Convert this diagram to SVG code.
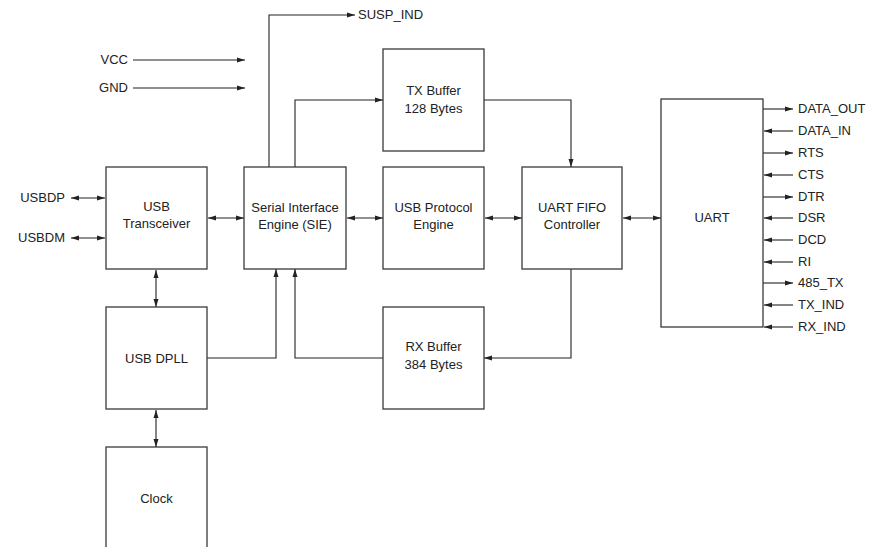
<svg xmlns="http://www.w3.org/2000/svg" width="879" height="547" viewBox="0 0 879 547">
<style>
.box{fill:#fff;stroke:#3a3a3a;stroke-width:1.3}
.ln{fill:none;stroke:#222;stroke-width:1.1}
.t{font-family:"Liberation Sans",Arial,sans-serif;font-size:13px;fill:#222}
.c{text-anchor:middle}
.r{text-anchor:end}
</style>
<defs>
<marker id="ah" markerUnits="userSpaceOnUse" markerWidth="10" markerHeight="8" refX="8" refY="3" orient="auto-start-reverse">
<path d="M0,0.5 L8,3 L0,5.5 Z" fill="#222"/>
</marker>
</defs>
<rect width="879" height="547" fill="#fff"/>
<g id="connectors">
<path class="ln" d="M133,60 H245" marker-end="url(#ah)"/>
<path class="ln" d="M133,88 H245" marker-end="url(#ah)"/>
<path class="ln" d="M269,167 V15 H355" marker-end="url(#ah)"/>
<path class="ln" d="M295,167 V100 H383" marker-end="url(#ah)"/>
<path class="ln" d="M484,100 H571 V167" marker-end="url(#ah)"/>
<path class="ln" d="M571,269 V358 H484" marker-end="url(#ah)"/>
<path class="ln" d="M383,358 H295 V269" marker-end="url(#ah)"/>
<path class="ln" d="M207,358 H276 V269" marker-end="url(#ah)"/>
<path class="ln" d="M71,198 H105" marker-start="url(#ah)" marker-end="url(#ah)"/>
<path class="ln" d="M71,238 H105" marker-start="url(#ah)" marker-end="url(#ah)"/>
<path class="ln" d="M208,218 H244" marker-start="url(#ah)" marker-end="url(#ah)"/>
<path class="ln" d="M347,218 H383" marker-start="url(#ah)" marker-end="url(#ah)"/>
<path class="ln" d="M485,218 H522" marker-start="url(#ah)" marker-end="url(#ah)"/>
<path class="ln" d="M623,218 H661" marker-start="url(#ah)" marker-end="url(#ah)"/>
<path class="ln" d="M156,270 V307" marker-start="url(#ah)" marker-end="url(#ah)"/>
<path class="ln" d="M156,410 V447" marker-start="url(#ah)" marker-end="url(#ah)"/>
<path class="ln" d="M763,109 H793" marker-end="url(#ah)"/>
<path class="ln" d="M793,131 H764" marker-end="url(#ah)"/>
<path class="ln" d="M763,153 H793" marker-end="url(#ah)"/>
<path class="ln" d="M793,175 H764" marker-end="url(#ah)"/>
<path class="ln" d="M763,197 H793" marker-end="url(#ah)"/>
<path class="ln" d="M793,218 H764" marker-end="url(#ah)"/>
<path class="ln" d="M793,240 H764" marker-end="url(#ah)"/>
<path class="ln" d="M793,262 H764" marker-end="url(#ah)"/>
<path class="ln" d="M763,283 H793" marker-end="url(#ah)"/>
<path class="ln" d="M793,305 H764" marker-end="url(#ah)"/>
<path class="ln" d="M793,327 H764" marker-end="url(#ah)"/>
</g>
<g id="labels">
<text class="t r" x="128" y="64">VCC</text>
<text class="t r" x="128" y="92">GND</text>
<text class="t" x="358" y="19">SUSP_IND</text>
<text class="t r" x="65" y="202">USBDP</text>
<text class="t r" x="65" y="242">USBDM</text>
<text class="t" x="798" y="113">DATA_OUT</text>
<text class="t" x="798" y="135">DATA_IN</text>
<text class="t" x="798" y="157">RTS</text>
<text class="t" x="798" y="179">CTS</text>
<text class="t" x="798" y="201">DTR</text>
<text class="t" x="798" y="222">DSR</text>
<text class="t" x="798" y="244">DCD</text>
<text class="t" x="798" y="266">RI</text>
<text class="t" x="798" y="287">485_TX</text>
<text class="t" x="798" y="309">TX_IND</text>
<text class="t" x="798" y="331">RX_IND</text>
</g>
<g id="usb-transceiver">
<rect class="box" x="106" y="167" width="101" height="102"/>
<text class="t c" x="156.5" y="211">USB</text>
<text class="t c" x="156.5" y="228">Transceiver</text>
</g>
<g id="sie">
<rect class="box" x="244" y="167" width="102" height="102"/>
<text class="t c" x="295" y="212">Serial Interface</text>
<text class="t c" x="295" y="229">Engine (SIE)</text>
</g>
<g id="tx-buffer">
<rect class="box" x="383" y="49" width="101" height="102"/>
<text class="t c" x="433.5" y="95">TX Buffer</text>
<text class="t c" x="433.5" y="113">128 Bytes</text>
</g>
<g id="usb-protocol-engine">
<rect class="box" x="383" y="167" width="101" height="102"/>
<text class="t c" x="433.5" y="212">USB Protocol</text>
<text class="t c" x="433.5" y="229">Engine</text>
</g>
<g id="uart-fifo">
<rect class="box" x="522" y="167" width="100" height="102"/>
<text class="t c" x="572" y="212">UART FIFO</text>
<text class="t c" x="572" y="229">Controller</text>
</g>
<g id="uart">
<rect class="box" x="661" y="99" width="102" height="228"/>
<text class="t c" x="712" y="222">UART</text>
</g>
<g id="usb-dpll">
<rect class="box" x="106" y="307" width="101" height="102"/>
<text class="t c" x="156.5" y="363">USB DPLL</text>
</g>
<g id="rx-buffer">
<rect class="box" x="383" y="307" width="101" height="102"/>
<text class="t c" x="433.5" y="351">RX Buffer</text>
<text class="t c" x="433.5" y="369">384 Bytes</text>
</g>
<g id="clock">
<rect class="box" x="106" y="447" width="101" height="110"/>
<text class="t c" x="156.5" y="503">Clock</text>
</g>
</svg>
